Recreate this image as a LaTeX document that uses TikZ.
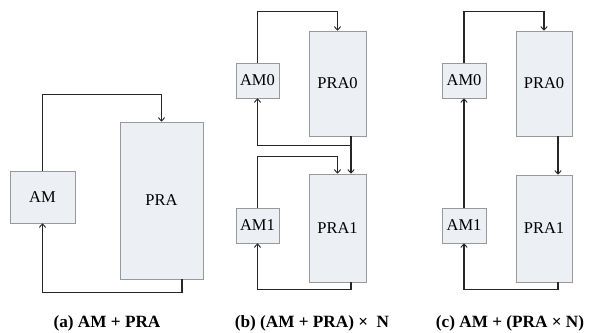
\documentclass[tikz,border=0pt]{standalone}
\usepackage{fontspec}
\setmainfont{Liberation Serif}
\usetikzlibrary{arrows.meta}
\begin{document}
\begin{tikzpicture}[x=1pt,y=-1pt,
  blk/.style={draw=black!40, fill=boxfill, line width=0.6pt, inner sep=0pt,
    font=\fontsize{16.5}{18}\selectfont},
  conn/.style={line width=1.2pt, black!85},
  arr/.style={conn, -{Straight Barb[length=3.5pt,width=6.5pt,line width=0.9pt]}},
  captext/.style={font=\fontsize{17.2}{19}\selectfont\bfseries}]
\definecolor{boxfill}{HTML}{ECEFF4}
\useasboundingbox (0,0) rectangle (589,332);
% (a)
\node[blk, minimum width=65pt, minimum height=52pt] (AM) at (42.5,197) {AM};
\node[blk, minimum width=83pt, minimum height=157pt] (PRA) at (161.5,200.5) {PRA};
\draw[arr] (AM.north) -- ++(0,-76) -| (PRA.north);
\draw[arr] ([xshift=20.5pt]PRA.south) -- ++(0,13) -| (AM.south);
\node[captext] (capa) at (107,323) {(a) AM + PRA};
% (b)
\node[blk, minimum width=43pt, minimum height=35pt] (bAM0) at (257.5,80.5) {AM0};
\node[blk, minimum width=57pt, minimum height=105pt] (bPRA0) at (337.5,83.5) {PRA0};
\node[blk, minimum width=43pt, minimum height=35pt] (bAM1) at (257.5,225.5) {AM1};
\node[blk, minimum width=57pt, minimum height=108pt] (bPRA1) at (337.5,228) {PRA1};
\draw[arr] (bAM0.north) -- ++(0,-51) -| (bPRA0.north);
\draw[arr] ([xshift=13.5pt]bPRA0.south) -- ++(0,9) -| (bAM0.south);
\draw[arr] ([xshift=13.5pt]bPRA0.south) -- ([xshift=13.5pt]bPRA1.north);
\draw[arr] (bAM1.north) -- ++(0,-51) -| (bPRA1.north);
\draw[arr] ([xshift=13.5pt]bPRA1.south) -- ++(0,7) -| (bAM1.south);
\node[captext] (capb) at (312,323) {(b) (AM + PRA) × \ N};
% (c)
\node[blk, minimum width=44pt, minimum height=35pt] (cAM0) at (464,80.5) {AM0};
\node[blk, minimum width=56pt, minimum height=105pt] (cPRA0) at (544,83.5) {PRA0};
\node[blk, minimum width=44pt, minimum height=35pt] (cAM1) at (464,225.5) {AM1};
\node[blk, minimum width=56pt, minimum height=107pt] (cPRA1) at (544,228.5) {PRA1};
\draw[arr] (cAM0.north) -- ++(0,-51) -| (cPRA0.north);
\draw[arr] ([xshift=14pt]cPRA0.south) -- ([xshift=14pt]cPRA1.north);
\draw[arr] (cAM1.north) -- (cAM0.south);
\draw[arr] ([xshift=14pt]cPRA1.south) -- ++(0,7) -| (cAM1.south);
\node[captext] (capc) at (510,323) {(c) AM + (PRA × N)};
\end{tikzpicture}
\end{document}
